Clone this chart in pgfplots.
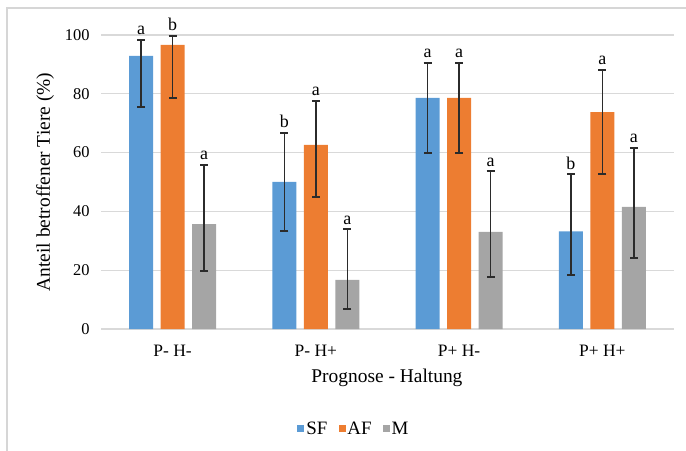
\documentclass[border=0pt]{standalone}
\usepackage{fontspec}
\setmainfont{Liberation Serif}
\usepackage{pgfplots}
\pgfplotsset{compat=1.18}
\definecolor{sfblue}{HTML}{5B9BD5}
\definecolor{aforange}{HTML}{ED7D31}
\definecolor{mgray}{HTML}{A5A5A5}
\definecolor{gridgray}{HTML}{D9D9D9}
\definecolor{errcol}{HTML}{2B2B2B}
\definecolor{framegray}{HTML}{D6D6D6}
\begin{document}
\begin{tikzpicture}
\draw[framegray, line width=2bp] (7bp,-20bp) -- (7bp,443bp) -- (720bp,443bp);
\begin{axis}[
  at={(101bp,122bp)}, anchor=south west,
  scale only axis, width=573bp, height=294bp,
  ybar, bar width=24bp,
  xmin=-0.5, xmax=3.5, ymin=0, ymax=100,
  ytick={0,20,40,60,80,100},
  xtick={0,1,2,3},
  xticklabels={P- H-, P- H+, P+ H-, P+ H+},
  major tick length=0,
  axis line style={draw=none},
  ymajorgrids, grid style={gridgray, line width=1.3bp},
  clip=false,
  /pgf/number format/assume math mode=true,
  yticklabel style={font=\fontsize{16.5}{20}\selectfont, xshift=-8bp},
  xticklabel style={font=\fontsize{17.5}{20}\selectfont, yshift=-13bp},
  label style={font=\fontsize{19.5}{22}\selectfont},
  ylabel={Anteil betroffener Tiere (\%)},
  xlabel={Prognose - Haltung},
  ylabel style={at={(axis description cs:-0.0977,0.5)}, anchor=center, rotate=0},
  xlabel style={at={(axis description cs:0.499,-0.167)}, anchor=center},
  legend style={at={(axis description cs:0.4415,-0.34)}, anchor=center, draw=none, fill=none,
    font=\fontsize{19}{21}\selectfont, legend columns=3,
    /tikz/every even column/.append style={column sep=9bp},
    inner sep=0pt},
  legend image code/.code={\fill[#1] (0bp,-3bp) rectangle (7bp,4bp);},
  error bars/error bar style={errcol, line width=1.4bp},
  error bars/error mark options={rotate=90, errcol, mark size=4bp, line width=1.4bp},
  nodes near coords style={font=\fontsize{18}{20}\selectfont, anchor=base, yshift=5bp, text=black},
]
% SF
\addplot[fill=sfblue, draw=none, bar shift=-31.5bp,
  error bars/.cd, y dir=both, y explicit]
  table[x=x, y=y, y error plus=ep, y error minus=em] {
x y ep em
0 92.9 5.4 17.4
1 50.0 16.7 16.7
2 78.6 11.9 18.7
3 33.2 19.5 14.8
};
\addlegendentry{SF}
% AF
\addplot[fill=aforange, draw=none, bar shift=0bp,
  error bars/.cd, y dir=both, y explicit]
  table[x=x, y=y, y error plus=ep, y error minus=em] {
x y ep em
0 96.6 3.1 18.0
1 62.6 15.0 17.7
2 78.6 11.9 18.7
3 73.8 14.3 21.1
};
\addlegendentry{AF}
% M
\addplot[fill=mgray, draw=none, bar shift=31.5bp,
  error bars/.cd, y dir=both, y explicit]
  table[x=x, y=y, y error plus=ep, y error minus=em] {
x y ep em
0 35.7 20.1 16.0
1 16.7 17.3 9.9
2 33.0 20.7 15.3
3 41.5 20.1 17.4
};
\addlegendentry{M}
% significance letters (invisible bars at error-bar tops)
\addplot[draw=none, fill=none, bar shift=-31.5bp, forget plot,
  nodes near coords, point meta=explicit symbolic]
  table[x=x, y=y, meta=l] {
x y l
0 98.3 a
1 66.7 b
2 90.5 a
3 52.7 b
};
\addplot[draw=none, fill=none, bar shift=0bp, forget plot,
  nodes near coords, point meta=explicit symbolic]
  table[x=x, y=y, meta=l] {
x y l
0 99.7 b
1 77.6 a
2 90.5 a
3 88.1 a
};
\addplot[draw=none, fill=none, bar shift=31.5bp, forget plot,
  nodes near coords, point meta=explicit symbolic]
  table[x=x, y=y, meta=l] {
x y l
0 55.8 a
1 34.0 a
2 53.7 a
3 61.6 a
};
\end{axis}
\pgfresetboundingbox
\path (0bp,0bp) rectangle (686bp,451bp);
\end{tikzpicture}
\end{document}
